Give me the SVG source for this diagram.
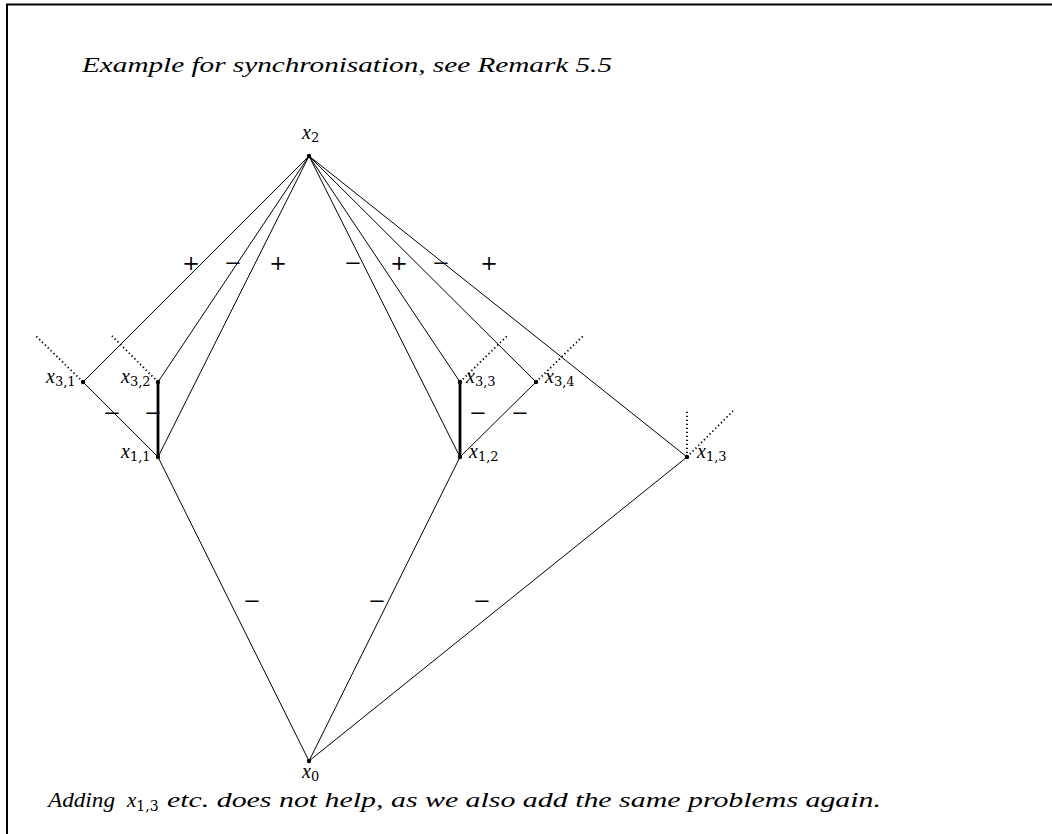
<svg xmlns="http://www.w3.org/2000/svg" width="1052" height="834" viewBox="0 0 1052 834">
<style>
.edge{stroke:#000;stroke-width:1;fill:none}
.thick{stroke:#000;stroke-width:2.8;fill:none}
.dot{stroke:#000;stroke-width:1.8;fill:none;stroke-dasharray:1.3 2.7}
.lbl{font-family:"Liberation Serif",serif;font-style:italic;font-size:20px;fill:#000}
.sub{font-family:"DejaVu Serif",serif;font-style:normal;font-size:13px;fill:#000}
.sign{font-family:"DejaVu Serif",serif;font-size:21px;fill:#000;text-anchor:middle}
.txt{font-family:"Liberation Serif",serif;font-style:italic;font-size:21px;fill:#000}
.pt{fill:#000}
</style>
<rect x="0" y="0" width="1052" height="834" fill="#fff"/>
<rect x="7" y="4.5" width="1200" height="1000" fill="none" stroke="#000" stroke-width="2"/>
<text class="txt" x="82" y="72" textLength="530" lengthAdjust="spacingAndGlyphs">Example for synchronisation, see Remark 5.5</text>
<g id="connectors">
<line class="edge" x1="309" y1="156" x2="83" y2="382"/>
<line class="edge" x1="309" y1="156" x2="158" y2="382"/>
<line class="edge" x1="309" y1="156" x2="158" y2="457"/>
<line class="edge" x1="309" y1="156" x2="460" y2="457"/>
<line class="edge" x1="309" y1="156" x2="460" y2="382"/>
<line class="edge" x1="309" y1="156" x2="536" y2="382"/>
<line class="edge" x1="309" y1="156" x2="687" y2="457"/>
<line class="edge" x1="83" y1="382" x2="158" y2="457"/>
<line class="thick" x1="158" y1="382" x2="158" y2="457"/>
<line class="thick" x1="460" y1="382" x2="460" y2="457"/>
<line class="edge" x1="536" y1="382" x2="460" y2="457"/>
<line class="edge" x1="158" y1="457" x2="309" y2="761"/>
<line class="edge" x1="460" y1="457" x2="309" y2="761"/>
<line class="edge" x1="687" y1="457" x2="309" y2="761"/>
<line class="dot" x1="83" y1="382" x2="36" y2="336"/>
<line class="dot" x1="158" y1="382" x2="112" y2="336"/>
<line class="dot" x1="460" y1="382" x2="507" y2="336"/>
<line class="dot" x1="536" y1="382" x2="583" y2="336"/>
<line class="dot" x1="687" y1="457" x2="687" y2="411"/>
<line class="dot" x1="687" y1="457" x2="733" y2="411"/>
<text class="sign" x="191" y="270">+</text>
<text class="sign" x="233" y="270">−</text>
<text class="sign" x="278" y="270">+</text>
<text class="sign" x="353" y="270">−</text>
<text class="sign" x="399" y="270">+</text>
<text class="sign" x="441" y="270">−</text>
<text class="sign" x="489" y="270">+</text>
<text class="sign" x="112" y="420">−</text>
<text class="sign" x="153" y="420">−</text>
<text class="sign" x="478" y="420">−</text>
<text class="sign" x="520" y="420">−</text>
<text class="sign" x="252" y="608">−</text>
<text class="sign" x="377" y="608">−</text>
<text class="sign" x="482" y="608">−</text>
</g>
<g id="x2"><circle class="pt" cx="309" cy="156" r="2.2"/><text class="lbl" x="302" y="139">x<tspan class="sub" dy="3">2</tspan></text></g>
<g id="x0"><circle class="pt" cx="309" cy="761" r="2.2"/><text class="lbl" x="302" y="778">x<tspan class="sub" dy="3">0</tspan></text></g>
<g id="x31"><circle class="pt" cx="83" cy="382" r="2.2"/><text class="lbl" x="46" y="383">x<tspan class="sub" dy="3">3,1</tspan></text></g>
<g id="x32"><circle class="pt" cx="158" cy="382" r="2.2"/><text class="lbl" x="121" y="383">x<tspan class="sub" dy="3">3,2</tspan></text></g>
<g id="x11"><circle class="pt" cx="158" cy="457" r="2.2"/><text class="lbl" x="121" y="458">x<tspan class="sub" dy="3">1,1</tspan></text></g>
<g id="x33"><circle class="pt" cx="460" cy="382" r="2.2"/><text class="lbl" x="466" y="383">x<tspan class="sub" dy="3">3,3</tspan></text></g>
<g id="x34"><circle class="pt" cx="536" cy="382" r="2.2"/><text class="lbl" x="545" y="383">x<tspan class="sub" dy="3">3,4</tspan></text></g>
<g id="x12"><circle class="pt" cx="460" cy="457" r="2.2"/><text class="lbl" x="469" y="458">x<tspan class="sub" dy="3">1,2</tspan></text></g>
<g id="x13"><circle class="pt" cx="687" cy="457" r="2.2"/><text class="lbl" x="697" y="458">x<tspan class="sub" dy="3">1,3</tspan></text></g>
<text class="txt" x="48" y="807" textLength="67" lengthAdjust="spacingAndGlyphs">Adding</text>
<text class="lbl" x="127" y="807" style="font-size:21px">x<tspan class="sub" style="font-size:14px" dy="4">1,3</tspan></text>
<text class="txt" x="167" y="807" textLength="714" lengthAdjust="spacingAndGlyphs">etc. does not help, as we also add the same problems again.</text>
</svg>
